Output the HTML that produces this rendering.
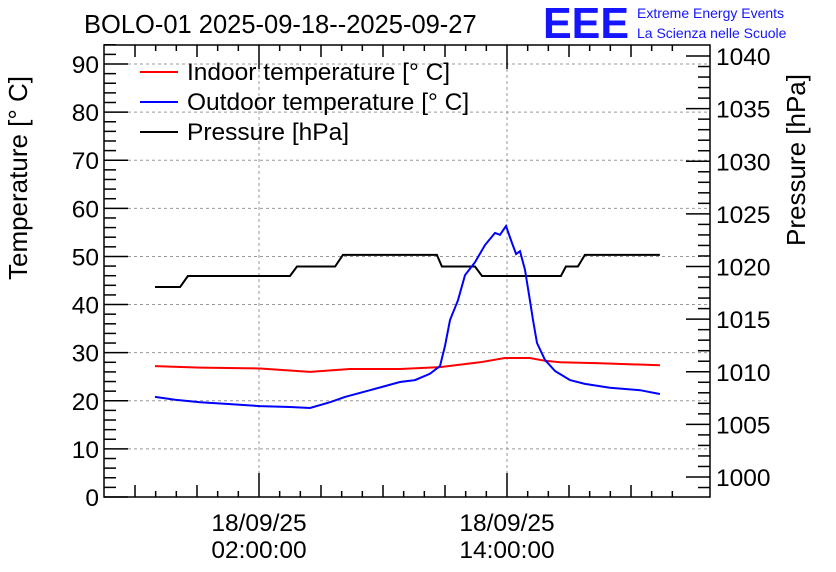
<!DOCTYPE html>
<html><head><meta charset="utf-8"><style>
body{margin:0;background:#fff;}
svg{display:block;font-family:"Liberation Sans",sans-serif;}
</style></head><body>
<svg id="chart" width="836" height="572">
<text x="84" y="33" font-size="25.5">BOLO-01 2025-09-18--2025-09-27</text>
<g>
<text x="543" y="38" font-size="44" fill="#1515ff" font-weight="bold" textLength="86" lengthAdjust="spacingAndGlyphs">EEE</text>
<text x="637" y="18" font-size="14" fill="#1515ff">Extreme Energy Events</text>
<text x="637" y="38" font-size="14" fill="#1515ff">La Scienza nelle Scuole</text>
</g>
<text transform="translate(27,178) rotate(-90)" text-anchor="middle" font-size="26">Temperature [° C]</text>
<text transform="translate(805,160) rotate(-90)" text-anchor="middle" font-size="26">Pressure [hPa]</text>
<g id="grid"></g><g id="axes"></g><g id="series"></g>
<g>
<line x1="140" y1="72" x2="178" y2="72" stroke="#f00" stroke-width="2"/><text x="187" y="80" font-size="24.5">Indoor temperature [° C]</text>
<line x1="140" y1="102" x2="178" y2="102" stroke="#00f" stroke-width="2"/><text x="187" y="110" font-size="24.5">Outdoor temperature [° C]</text>
<line x1="140" y1="132" x2="178" y2="132" stroke="#000" stroke-width="2"/><text x="187" y="140" font-size="24.5">Pressure [hPa]</text>
</g>
</svg>
<script>
const outTimes=[-3.03,-2.06,-0.85,0.6,2.05,3.5,4.47,5.44,6.16,7.37,8.82,9.55,10.27,10.76,11.0,11.24,11.63,11.97,12.45,12.94,13.42,13.66,13.95,14.24,14.44,14.63,14.87,15.11,15.26,15.45,15.84,16.32,17.05,17.77,18.98,20.44,21.4];
const outTemp=[20.8,20.2,19.7,19.3,18.9,18.7,18.5,19.7,20.8,22.2,23.9,24.3,25.6,27.2,31.4,36.8,40.9,46.1,48.8,52.4,54.9,54.5,56.3,52.8,50.5,51.1,47.2,40.9,36.8,32.0,28.5,26.2,24.3,23.5,22.7,22.2,21.4];
const inTimes=[-3.03,-0.85,2.05,4.47,6.4,8.82,10.76,12.69,13.9,15.11,15.84,16.56,18.5,21.4];
const inTemp=[27.2,26.9,26.7,26.0,26.6,26.6,27.0,28.0,28.9,28.9,28.3,28.0,27.8,27.4];
const pTimes=[-3.03,-1.82,-1.44,3.5,3.84,5.68,6.06,10.61,10.85,12.45,12.79,16.61,16.85,17.43,17.77,21.4];
const pVals=[1018.05,1018.05,1019.1,1019.1,1020,1020,1021.1,1021.1,1020,1020,1019.1,1019.1,1020,1020,1021.1,1021.1];
const L=104,R=710,T=45,B=497;
const xs=h=>259+(h-2)*20.667;
const yT=v=>497-v*4.811;
const yP=p=>266.5-(p-1020)*10.525;
const NS='http://www.w3.org/2000/svg';
function mk(tag,at,parent){const e=document.createElementNS(NS,tag);for(const k in at)e.setAttribute(k,at[k]);document.getElementById(parent).appendChild(e);return e;}
for(let v=10;v<=90;v+=10){const g=mk('line',{x1:L,x2:R,y1:yT(v),y2:yT(v),stroke:'#999','stroke-dasharray':'3,3'},'grid');

}
[2,14].forEach(h=>{const g=mk('line',{x1:xs(h),x2:xs(h),y1:T,y2:B,stroke:'#999','stroke-dasharray':'3,3'},'grid');

});
const fr=mk('rect',{x:L,y:T,width:R-L,height:B-T,fill:'none',stroke:'#000','stroke-width':1.5},'axes');


for(let v=0;v<=94;v+=2){const maj=v%10==0;const y=yT(v);
mk('line',{x1:L,x2:L+(maj?24:12),y1:y,y2:y,stroke:'#000','stroke-width':1.5},'axes');
if(maj){const t=mk('text',{x:L-5,y:y+9,'text-anchor':'end','font-size':24.5},'axes');t.textContent=v;

}}
for(let p=998;p<=1040;p++){const y=yP(p);if(y<T||y>B)continue;const maj=p%5==0;
mk('line',{x1:R,x2:R-(maj?24:12),y1:y,y2:y,stroke:'#000','stroke-width':1.5},'axes');
if(maj){const t=mk('text',{x:R+6,y:y+9,'font-size':24.5},'axes');t.textContent=p;

}}
for(let h=-4;h<=22;h+=0.5){const x=xs(h);if(x<L||x>R)continue;const r=((h%3)+3)%3;let len=0;
if(h==2||h==14)len=24;else if(r==2)len=12;else if(Number.isInteger(h))len=6;else continue;
mk('line',{x1:x,x2:x,y1:B,y2:B-len,stroke:'#000','stroke-width':1.5},'axes');
mk('line',{x1:x,x2:x,y1:T,y2:T+len,stroke:'#000','stroke-width':1.5},'axes');}
[['18/09/25','02:00:00',2],['18/09/25','14:00:00',14]].forEach(d=>{
const t1=mk('text',{x:xs(d[2]),y:531,'text-anchor':'middle','font-size':24.5},'axes');t1.textContent=d[0];


const t2=mk('text',{x:xs(d[2]),y:558,'text-anchor':'middle','font-size':24.5},'axes');t2.textContent=d[1];

});
function line(ts,vs,yf,col,name){const pts=ts.map((t,i)=>xs(t).toFixed(1)+','+yf(vs[i]).toFixed(1)).join(' ');
const p=mk('polyline',{points:pts,fill:'none',stroke:col,'stroke-width':2},'series');

}
line(pTimes,pVals,yP,'#000','pressure-line');
line(inTimes,inTemp,yT,'#f00','indoor-temp-line');
line(outTimes,outTemp,yT,'#00f','outdoor-temp-line');
</script>
</body></html>
